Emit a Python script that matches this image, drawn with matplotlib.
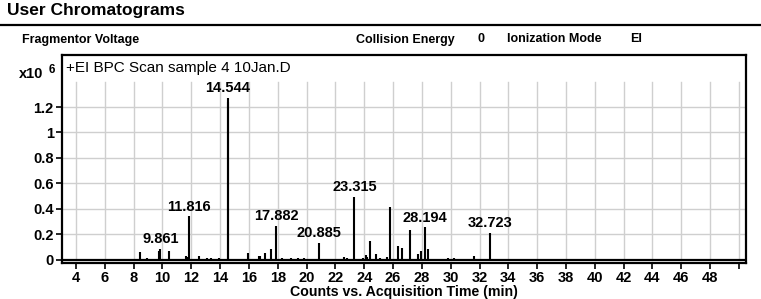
import matplotlib
matplotlib.use("Agg")
import matplotlib.pyplot as plt

plt.rcParams['font.family'] = ['Liberation Sans', 'DejaVu Sans']

# peak list: retention time (min), intensity (x10^6 counts)
peak_times = [8.42, 8.9, 9.78, 9.861, 10.42, 11.62, 11.72, 11.816, 12.52, 13.1,
              13.4, 13.9, 14.52, 14.544, 15.92, 16.7, 16.8, 17.12, 17.55, 17.882,
              18.3, 18.9, 19.4, 19.8, 20.885, 22.6, 22.8, 23.315, 23.9, 24.1,
              24.22, 24.4, 24.8, 25.1, 25.55, 25.77, 26.33, 26.62, 27.2, 27.7,
              27.97, 28.194, 28.42, 29.8, 30.2, 31.65, 32.723, 33.2]
peak_heights = [0.057, 0.008, 0.07, 0.083, 0.07, 0.03, 0.02, 0.34, 0.03, 0.008,
                0.008, 0.008, 1.24, 1.27, 0.05, 0.03, 0.025, 0.055, 0.085, 0.265,
                0.015, 0.008, 0.008, 0.012, 0.13, 0.02, 0.01, 0.495, 0.01, 0.035,
                0.02, 0.145, 0.047, 0.01, 0.02, 0.417, 0.104, 0.09, 0.23, 0.047,
                0.065, 0.253, 0.086, 0.01, 0.008, 0.026, 0.21, 0.005]

labelled_peaks = [9.861, 11.816, 14.544, 17.882, 20.885, 23.315, 28.194, 32.723]

x_ticks = list(range(4, 52, 2))
x_ticklabels = [str(t) if t <= 48 else "" for t in x_ticks]
y_ticks = [0, 0.2, 0.4, 0.6, 0.8, 1.0, 1.2]
y_ticklabels = ["0", "0.2", "0.4", "0.6", "0.8", "1", "1.2"]
grid_top = 1.4

W, H = 761, 299
fig = plt.figure(figsize=(W / 100, H / 100), dpi=100)

# header block
fig.text(7 / W, 1 - 15 / H, "User Chromatograms", fontsize=12.5, fontweight='bold',
         va='baseline', ha='left')
fig.add_artist(plt.Line2D([0, 1], [1 - 25 / H, 1 - 25 / H], color='black',
                          lw=1.6, transform=fig.transFigure))
hdr_y = 1 - 42.5 / H
for x, s in [(22, "Fragmentor Voltage"), (356, "Collision Energy"), (477, "0"),
             (507, "Ionization Mode"), (630, "EI")]:
    fig.text(x / W, hdr_y, s, fontsize=9, fontweight='bold', va='baseline', ha='left')

# chromatogram axes
left, right, top, bottom = 62, 746, 54.5, 262.5
ax = fig.add_axes([left / W, 1 - bottom / H, (right - left) / W, (bottom - top) / H])
ax.set_xlim(3.03, 50.49)
ax.set_ylim(-0.0235, 1.614)

for t in x_ticks:
    ax.plot([t, t], [0, grid_top], color='#cfcfcf', lw=1.0, zorder=0)
for v in y_ticks[1:]:
    ax.axhline(v, color='#cfcfcf', lw=1.0, zorder=0)

ax.axhline(0, color='black', lw=1.6, zorder=2)
ax.vlines(peak_times, 0, peak_heights, color='black', lw=1.5, zorder=3)

for t in labelled_peaks:
    h = peak_heights[peak_times.index(t)]
    ax.annotate(f"{t:.3f}", (t, h), xytext=(0, 2), textcoords='offset points',
                ha='center', va='bottom', fontsize=10.5, fontweight='bold')

ax.set_xticks(x_ticks)
ax.set_xticklabels(x_ticklabels, fontweight='bold')
ax.set_yticks(y_ticks)
ax.set_yticklabels(y_ticklabels, fontweight='bold')
ax.tick_params(axis='both', direction='out', length=4, width=1.2, labelsize=10.5,
               pad=2)
for sp in ax.spines.values():
    sp.set_linewidth(1.6)

ax.set_xlabel("Counts vs. Acquisition Time (min)", fontsize=10.2, fontweight='bold',
              labelpad=0)

fig.text(66 / W, 1 - 68 / H, "+EI BPC Scan sample 4 10Jan.D", fontsize=11,
         va='center', ha='left')
fig.text(19 / W, 1 - 78 / H, "x10", fontsize=10.5, fontweight='bold',
         va='baseline', ha='left')
fig.text(49 / W, 1 - 73 / H, "6", fontsize=8.5, fontweight='bold',
         va='baseline', ha='left')

fig.savefig("out.png", dpi=100)
